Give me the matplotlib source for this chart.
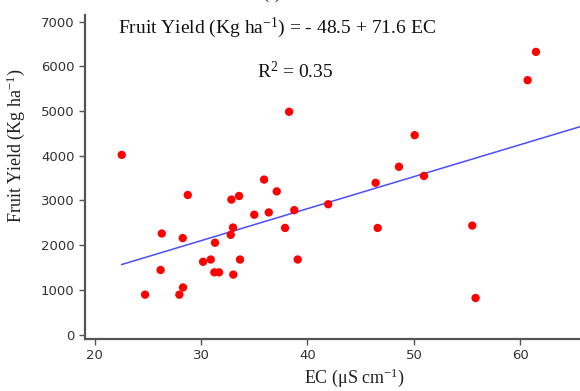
import numpy as np
import matplotlib
matplotlib.use("Agg")
import matplotlib.pyplot as plt

plt.rcParams['mathtext.fontset'] = 'custom'
plt.rcParams['mathtext.rm'] = 'Liberation Serif'
plt.rcParams['mathtext.it'] = 'Liberation Serif:italic'

# EC (uS/cm) and fruit yield (kg/ha)
ec = [22.55, 24.74, 26.31, 26.2, 28.75, 28.28, 28.31, 27.96, 30.19, 30.91,
      31.31, 31.25, 31.69, 32.85, 33.57, 33.0, 32.79, 33.03, 33.66, 35.0,
      35.92, 36.36, 37.11, 37.89, 38.76, 39.08, 38.27, 41.95, 46.40, 46.59,
      48.59, 50.07, 50.94, 55.48, 55.79, 60.68, 61.46]
fruit_yield = [4018, 892, 2260, 1444, 3121, 2157, 1053, 892, 1627, 1678,
               2053, 1391, 1391, 3018, 3099, 2393, 2230, 1340, 1678, 2680,
               3466, 2731, 3201, 2384, 2782, 1678, 4982, 2914, 3393, 2384,
               3753, 4459, 3547, 2437, 817, 5689, 6322]

intercept = -48.5
slope = 71.6

xticks = [20, 30, 40, 50, 60]
yticks = [0, 1000, 2000, 3000, 4000, 5000, 6000, 7000]

fig = plt.figure(figsize=(5.8, 3.91), dpi=100)
ax = fig.add_axes([0.1466, 0.133, 0.8534, 0.829])

ax.scatter(ec, fruit_yield, s=36, color='#ff0000', edgecolors='none', zorder=3)

xl = np.array([min(ec), 67])
ax.plot(xl, intercept + slope * xl, color='#4d4dff', lw=1.1, zorder=2)

ax.set_xlim(19.1, 65.6)
ax.set_ylim(-100, 7150)
ax.set_xticks(xticks)
ax.set_yticks(yticks)

for side in ['top', 'right']:
    ax.spines[side].set_visible(False)
for side in ['left', 'bottom']:
    ax.spines[side].set_color('#555555')
    ax.spines[side].set_linewidth(1.6)
ax.tick_params(direction='out', length=4, width=1, color='#555555',
               labelsize=9.5, labelcolor='#333333')
for lab in ax.get_xticklabels() + ax.get_yticklabels():
    lab.set_family('DejaVu Sans')

serif = 'Liberation Serif'
ax.set_xlabel(r'EC ($\mathregular{\mu}$S cm$^{\mathregular{-1}}$)', family=serif,
              fontsize=13, color='#222222', va='center')
ax.set_ylabel(r'Fruit Yield (Kg ha$^{\mathregular{-1}}$)', family=serif,
              fontsize=13, color='#222222', va='center')
ax.xaxis.set_label_coords(0.545, -0.12)
ax.yaxis.set_label_coords(-0.139, 0.596)

fig.text(0.203, 0.93, r'Fruit Yield (Kg ha$^{\mathregular{-1}}$) = - 48.5 + 71.6 EC',
         family=serif, fontsize=14, va='center', ha='left', color='#111111')
fig.text(0.443, 0.818, r'R$^{\mathregular{2}}$ = 0.35', family=serif, fontsize=14,
         va='center', ha='left', color='#111111')
fig.text(0.469, 0.994, '(a)', family=serif, fontsize=11, va='bottom', ha='center')

fig.savefig('out.png', dpi=100)
